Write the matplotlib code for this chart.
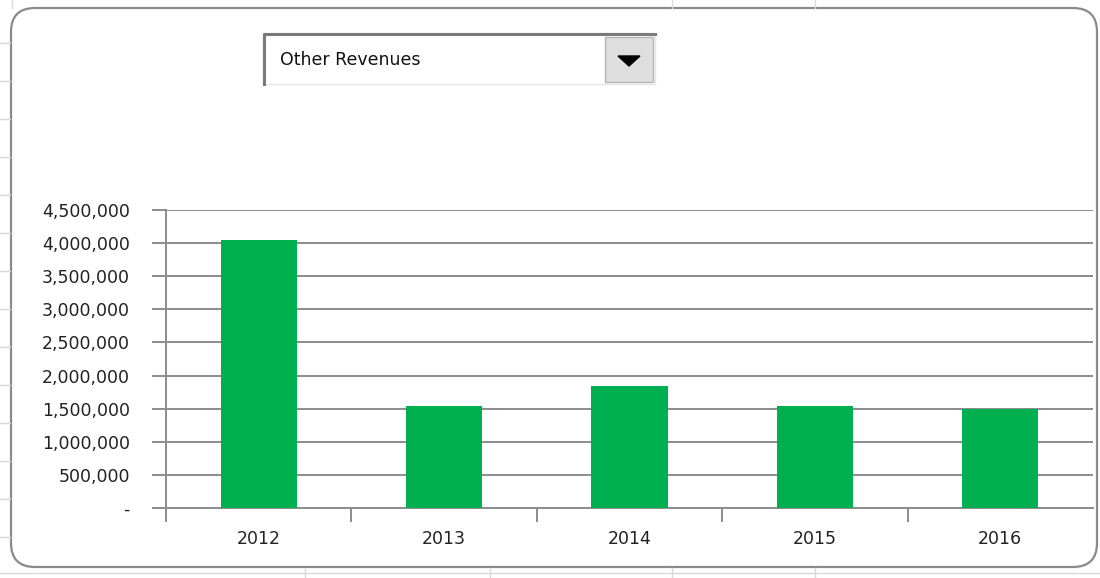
import matplotlib
matplotlib.use("Agg")
import matplotlib.pyplot as plt
from matplotlib.patches import FancyBboxPatch, Rectangle, Polygon
from matplotlib.ticker import FuncFormatter, MultipleLocator

plt.rcParams["font.family"] = ["DejaVu Sans"]

# data
years = ["2012", "2013", "2014", "2015", "2016"]
other_revenues = [4050000, 1540000, 1840000, 1540000, 1490000]
selected = "Other Revenues"

W, H = 1100, 578
fig = plt.figure(figsize=(W / 100, H / 100), dpi=100)

# background layer in pixel coords (sheet, chart frame, dropdown)
bg = fig.add_axes([0, 0, 1, 1])
bg.set_xlim(0, W)
bg.set_ylim(H, 0)
bg.axis("off")

cell = "#d9d9d9"
for x in [12, 672, 815]:
    bg.plot([x, x], [0, 8], color=cell, lw=1)
for x in [305, 490, 672, 815]:
    bg.plot([x, x], [568, H], color=cell, lw=1)
for y in [43, 81, 119, 157, 195, 233, 271, 309, 347, 385, 423, 461, 499, 537]:
    bg.plot([0, 10], [y, y], color=cell, lw=1)
bg.plot([0, W], [573, 573], color=cell, lw=1)

bg.add_patch(FancyBboxPatch((11, 8), 1086, 559,
                            boxstyle="round,pad=0,rounding_size=24",
                            facecolor="white", edgecolor="#8a8a8a", lw=1.6))

# dropdown
bg.add_patch(Rectangle((263, 33), 392, 51, facecolor="white",
                       edgecolor="#e6e6e6", lw=1))
bg.plot([264, 264, 655], [84, 33.5, 33.5], color="#7a7a7a", lw=2.2)
bg.add_patch(Rectangle((605, 37), 48, 45, facecolor="#dedede",
                       edgecolor="#b5b5b5", lw=1))
bg.add_patch(Polygon([[618, 56], [640, 56], [629, 66]], closed=True,
                     facecolor="black", edgecolor="black"))
bg.text(280, 60, selected, fontsize=12.5, va="center", ha="left",
        color="#111111")

# chart
ax = fig.add_axes([166 / W, (H - 508) / H, (1093 - 166) / W, (508 - 210) / H])
ax.set_facecolor("none")
x = range(len(years))
ax.bar(x, other_revenues, width=0.41, color="#00b050", zorder=3)
ax.set_xlim(-0.5, len(years) - 0.5)
ax.set_ylim(0, 4500000)
ax.yaxis.set_major_locator(MultipleLocator(500000))
ax.yaxis.set_major_formatter(FuncFormatter(
    lambda v, p: "-" if v == 0 else f"{int(v):,}"))
ax.grid(axis="y", color="#8c8c8c", lw=1.4, zorder=0)
ax.set_axisbelow(True)

for s in ["top", "right"]:
    ax.spines[s].set_visible(False)
for s in ["left", "bottom"]:
    ax.spines[s].set_color("#8c8c8c")
    ax.spines[s].set_linewidth(1.4)

ax.set_xticks(x)
ax.set_xticklabels(years)
ax.tick_params(axis="x", length=0, pad=15.5, labelsize=12.5, labelcolor="#222222")
ax.set_xticks([i - 0.5 for i in range(len(years))], minor=True)
ax.tick_params(axis="x", which="minor", length=10, width=1.4, color="#8c8c8c")
ax.tick_params(axis="y", length=10, width=1.4, color="#8c8c8c", pad=16,
               labelsize=12.5, labelcolor="#222222")

fig.savefig("out.png", dpi=100)
